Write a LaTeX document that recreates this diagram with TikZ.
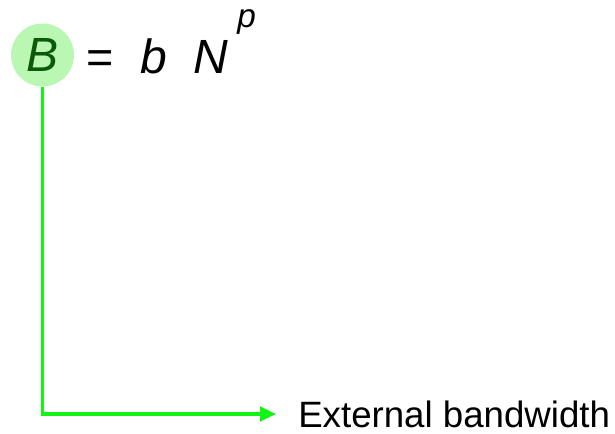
\documentclass[tikz,border=0pt]{standalone}
\usepackage{fontspec}
\setmainfont{Liberation Sans}
\usepackage{tikz}
\usetikzlibrary{arrows.meta, positioning}
\definecolor{eqgreen}{HTML}{B9F7B3}
\definecolor{eqdark}{HTML}{0A5A0A}
\definecolor{eqline}{HTML}{14F414}
\tikzset{
  eqvar/.style={anchor=base west, inner sep=0pt, font=\fontsize{36}{42}\selectfont\itshape},
  eqsym/.style={anchor=base west, inner sep=0pt, font=\fontsize{35}{42}\selectfont},
  eqexp/.style={anchor=base west, inner sep=0pt, font=\fontsize{25}{30}\selectfont\itshape},
  eqcircle/.style={circle, fill=eqgreen, text=eqdark, minimum size=47.25pt, inner sep=0pt,
    font=\fontsize{36}{42}\selectfont\itshape},
  eqarrow/.style={-{Triangle[length=12pt,width=11pt]}, line width=2.3pt, eqline},
  eqlabel/.style={anchor=base west, inner sep=0pt, font=\fontsize{27.5}{32}\selectfont},
}
\begin{document}
\begin{tikzpicture}[x=0.75pt,y=-0.75pt]
  \useasboundingbox (0,0) rectangle (615,433);
  % Formel B = b N^p
  \node[eqcircle] (bigb) at (42.5,55) {B};
  \node[eqsym] (equal) at (86,73) {=};
  \node[eqvar] (smallb) at (140,73) {b};
  \node[eqvar] (bign) at (193,73) {N};
  \node[eqexp] (expp) at (237,27) {p};
  % Pfeil zur Beschriftung
  \node[eqlabel] (extbw) at (298,427) {External bandwidth};
  \coordinate (tip) at (276,414);
  \draw[eqarrow] (bigb.south) |- (tip);
\end{tikzpicture}
\end{document}
